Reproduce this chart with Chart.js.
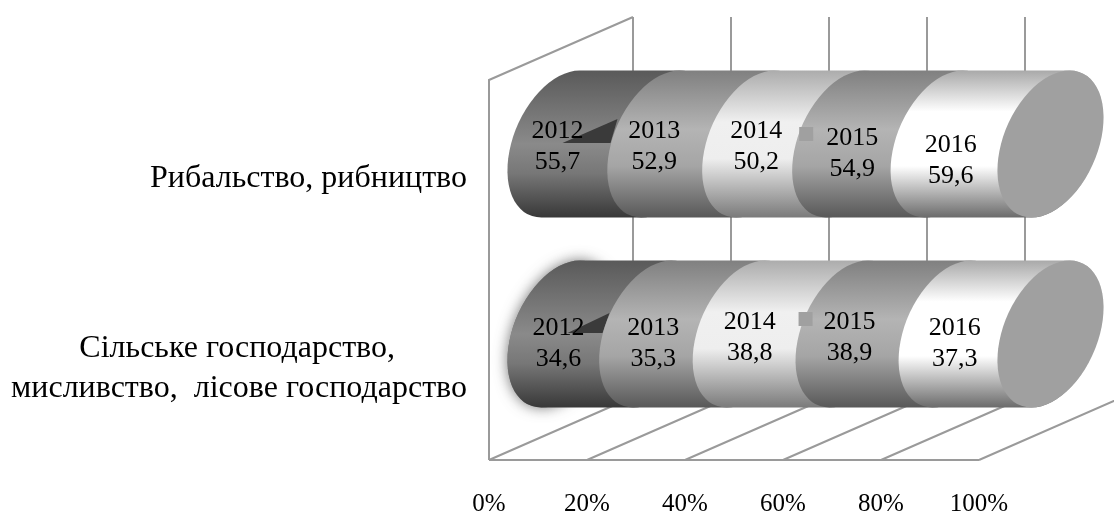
<!DOCTYPE html>
<html>
<head>
<meta charset="utf-8">
<style>
    html, body { margin: 0; padding: 0; background: #fff; }
    canvas { display: block; }
</style>
<script src="https://cdn.jsdelivr.net/npm/chart.js@4"></script>
</head>
<body>
<canvas id="myChart" width="1114" height="512"></canvas>
<script>
const categories = [
    'Рибальство, рибництво',
    ['Сільське господарство,\u00a0\u00a0\u00a0\u00a0\u00a0\u00a0\u00a0\u00a0\u00a0', 'мисливство,  лісове господарство']
];
const years = ['2012', '2013', '2014', '2015', '2016'];
const values2012 = [55.7, 34.6];
const values2013 = [52.9, 35.3];
const values2014 = [50.2, 38.8];
const values2015 = [54.9, 38.9];
const values2016 = [59.6, 37.3];
const seriesValues = [values2012, values2013, values2014, values2015, values2016];
const tickValues = [0, 20, 40, 60, 80, 100];

// vertical shading of each cylinder slice: [position, colour]
const shades = [
    [[0, '#5a5a5a'], [0.5, '#8a8a8a'], [0.7, '#777777'], [1, '#383838']],
    [[0, '#808080'], [0.4, '#b4b4b4'], [0.65, '#a5a5a5'], [1, '#585858']],
    [[0, '#acacac'], [0.35, '#f0f0f0'], [0.6, '#eeeeee'], [1, '#7a7a7a']],
    [[0, '#808080'], [0.4, '#b4b4b4'], [0.65, '#a5a5a5'], [1, '#585858']],
    [[0, '#a9a9a9'], [0.28, '#ffffff'], [0.65, '#ffffff'], [1, '#6b6b6b']]
];
const capColor = '#a0a0a0';
const lineColor = '#9a9a9a';
const textFont = '"Liberation Serif", "Times New Roman", serif';

// 3d box of the plot
const depthX = 144, depthY = 63, barShiftX = 71.5, barShiftY = 35, floorLift = 4;
const capRadius = 49.5, capShear = 0.26, lineGap = 31;

// hand placed label nudges [dx, dy] per row and series, measured from slice start
const labelNudges = [
    [[-3, -6], [-6, -6], [1, -6], [7, 1], [7, 8]],
    [[-2, 1], [1, 1], [4, -5], [1, -5], [3, 1]]
];
// stray callout wedge and square marks of the original
const wedges = [[2, -1, 57, -25, 50, -1], [7, -1, 49, -21, 42, -1]];
const squares = [[-46, -17], [-50, -22]];

const total = categories.map((c, i) => seriesValues.reduce((s, v) => s + v[i], 0));

function slicePath(ctx, x0, x1, cy, hh) {
    ctx.beginPath();
    ctx.moveTo(x0, cy - hh);
    ctx.lineTo(x1, cy - hh);
    ctx.ellipse(x1, cy, capRadius, hh, 0, -Math.PI / 2, Math.PI / 2);
    ctx.lineTo(x0, cy + hh);
    ctx.ellipse(x0, cy, capRadius, hh, 0, Math.PI / 2, Math.PI * 1.5);
    ctx.closePath();
}

// bars are cylinder slices here, the scales still give all the positions
Chart.BarElement.prototype.draw = function(ctx) {
    const ds = this.sliceDs;
    const row = this.sliceRow;
    const hh = this.height / 2;
    const cy = this.y;

    ctx.save();
    ctx.transform(1, 0, -capShear, 1, capShear * cy, 0);

    // soft glow round the left end of the lower cylinder
    if (ds === 0 && row === 1) {
        ctx.save();
        ctx.shadowColor = 'rgba(80, 80, 80, 0.8)';
        ctx.shadowBlur = 14;
        ctx.fillStyle = '#777777';
        ctx.beginPath();
        ctx.ellipse(this.base, cy, capRadius, hh, 0, 0, Math.PI * 2);
        ctx.fill();
        ctx.restore();
    }

    const grad = ctx.createLinearGradient(0, cy - hh, 0, cy + hh);
    shades[ds].forEach(s => grad.addColorStop(s[0], s[1]));
    ctx.fillStyle = grad;
    slicePath(ctx, this.base, this.x, cy, hh);
    ctx.fill();

    if (ds === years.length - 1) {
        ctx.fillStyle = capColor;
        ctx.beginPath();
        ctx.ellipse(this.x, cy, capRadius, hh, 0, 0, Math.PI * 2);
        ctx.fill();
    }
    ctx.restore();

    if (ds === 0) {
        const w = wedges[row];
        ctx.fillStyle = '#3a3a3a';
        ctx.beginPath();
        ctx.moveTo(this.base + w[0], cy + w[1]);
        ctx.lineTo(this.base + w[2], cy + w[3]);
        ctx.lineTo(this.base + w[4], cy + w[5]);
        ctx.closePath();
        ctx.fill();
    }
};

const box3d = {
    id: 'box3d',
    beforeDatasetsDraw(chart) {
        const ctx = chart.ctx, x = chart.scales.x;
        const floorY = chart.chartArea.bottom - floorLift;
        const wallTop = chart.chartArea.top - floorLift;
        const left = x.getPixelForValue(0), right = x.getPixelForValue(100);

        ctx.save();
        ctx.strokeStyle = lineColor;
        ctx.lineWidth = 2;
        ctx.beginPath();
        ctx.moveTo(left, floorY);
        ctx.lineTo(right, floorY);
        ctx.moveTo(left, floorY);
        ctx.lineTo(left, wallTop);
        ctx.lineTo(left + depthX, wallTop - depthY);
        tickValues.forEach(v => {
            const px = x.getPixelForValue(v);
            ctx.moveTo(px, floorY);
            ctx.lineTo(px + depthX, floorY - depthY);
            ctx.lineTo(px + depthX, wallTop - depthY);
        });
        ctx.stroke();
        ctx.restore();
    },
    // the library paints stacks last to first, slices must overlap first to last
    beforeDatasetDraw() {
        return false;
    },
    afterDatasetsDraw(chart) {
        const ctx = chart.ctx;

        ctx.save();
        ctx.translate(barShiftX, -barShiftY);

        years.forEach((y, ds) => {
            const meta = chart.getDatasetMeta(ds);
            meta.data.forEach((el, row) => {
                el.sliceDs = ds;
                el.sliceRow = row;
            });
            meta.controller.draw();
        });

        squares.forEach((s, row) => {
            const el = chart.getDatasetMeta(3).data[row];
            ctx.fillStyle = capColor;
            ctx.fillRect(el.base + s[0], el.y + s[1], 14, 14);
        });

        ctx.fillStyle = '#000';
        ctx.font = '26px ' + textFont;
        ctx.textAlign = 'center';
        ctx.textBaseline = 'alphabetic';
        seriesValues.forEach((vals, ds) => {
            chart.getDatasetMeta(ds).data.forEach((el, row) => {
                const n = labelNudges[row][ds];
                const tx = el.base + n[0], ty = el.y + n[1];
                ctx.fillText(years[ds], tx, ty);
                ctx.fillText(String(vals[row]).replace('.', ','), tx, ty + lineGap);
            });
        });
        ctx.restore();
    }
};

new Chart(document.getElementById('myChart').getContext('2d'), {
    type: 'bar',
    plugins: [box3d],
    data: {
        labels: categories,
        datasets: years.map((y, i) => ({
            label: y,
            data: seriesValues[i].map((v, r) => v / total[r] * 100),
            backgroundColor: shades[i][1][1],
            barThickness: 147
        }))
    },
    options: {
        indexAxis: 'y',
        responsive: false,
        animation: false,
        layout: { padding: { top: 84, right: 135, left: 0, bottom: 0 } },
        plugins: {
            legend: { display: false },
            tooltip: { enabled: false }
        },
        scales: {
            x: {
                stacked: true,
                min: 0,
                max: 100,
                afterFit: s => { s.height = 48; },
                afterBuildTicks: s => { s.ticks = tickValues.map(v => ({ value: v })); },
                grid: { display: false },
                border: { display: false },
                ticks: {
                    padding: 17,
                    maxRotation: 0,
                    autoSkip: false,
                    color: '#000',
                    font: { family: textFont, size: 25 },
                    callback: v => v + '%'
                }
            },
            y: {
                stacked: true,
                afterFit: s => { s.width = 489; },
                grid: { display: false },
                border: { display: false },
                ticks: {
                    padding: 14,
                    color: '#000',
                    font: { family: textFont, size: 32, lineHeight: 1.25 }
                }
            }
        }
    }
});
</script>
</body>
</html>
